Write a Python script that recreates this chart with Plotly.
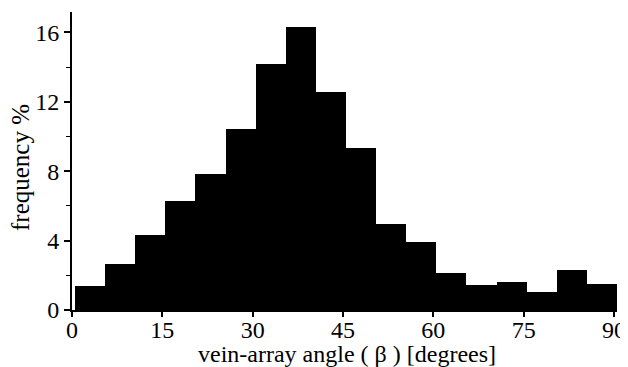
import plotly.graph_objects as go

# Histogram of vein-array angle (beta), 5-degree bins
bin_left = [0.5, 5.5, 10.5, 15.5, 20.5, 25.5, 30.5, 35.5, 40.5, 45.5,
            50.5, 55.5, 60.5, 65.5, 70.5, 75.5, 80.5, 85.5]
bin_width = 5
frequency = [1.38, 2.65, 4.35, 6.3, 7.85, 10.45, 14.15, 16.3, 12.55, 9.35,
             4.95, 3.93, 2.12, 1.44, 1.6, 1.06, 2.3, 1.52]

x_ticks = [0, 15, 30, 45, 60, 75, 90]
y_ticks = [0, 4, 8, 12, 16]

x_title = "vein-array angle ( β ) [degrees]"
y_title = "frequency %"

FONT = "Liberation Serif"
FS = 24

# the page body adds an 8px margin, so the figure is sized/offset accordingly
fig = go.Figure(
    go.Bar(
        x=[b + bin_width / 2 for b in bin_left],
        y=frequency,
        width=bin_width,
        marker=dict(color="black", line=dict(width=0)),
        cliponaxis=False,
    )
)

fig.update_layout(
    width=620, height=359,
    margin=dict(l=64, r=11, t=4, b=57),
    paper_bgcolor="white", plot_bgcolor="white",
    bargap=0, showlegend=False,
    font=dict(family=FONT, size=FS, color="black"),
    annotations=[
        dict(text=x_title, xref="paper", yref="paper", x=0.5, y=0,
             xanchor="center", yanchor="middle", xshift=2, yshift=-44,
             showarrow=False, font=dict(family=FONT, size=FS, color="black")),
        dict(text=y_title, xref="paper", yref="paper", x=0, y=0.5,
             xanchor="center", yanchor="middle", xshift=-52, yshift=-7,
             textangle=-90, showarrow=False,
             font=dict(family=FONT, size=25, color="black")),
    ],
)
fig.update_xaxes(
    range=[0, 90.5], tickvals=x_ticks, ticktext=[str(v) for v in x_ticks],
    showgrid=False, zeroline=False, showline=True, linecolor="black", linewidth=2,
    ticks="outside", ticklen=5, tickwidth=1.5, tickcolor="black",
    ticklabelstandoff=-8,
    tickfont=dict(family=FONT, size=FS), automargin=False,
)
fig.update_yaxes(
    range=[0, 17.17], tickvals=y_ticks, ticktext=[str(v) for v in y_ticks],
    showgrid=False, zeroline=False, showline=True, linecolor="black", linewidth=2,
    ticks="outside", ticklen=6, tickwidth=1.5, tickcolor="black",
    minor=dict(dtick=2, ticks="outside", ticklen=4, tickwidth=1, tickcolor="black"),
    tickfont=dict(family=FONT, size=FS), automargin=False,
)

fig.write_html("out.html")
